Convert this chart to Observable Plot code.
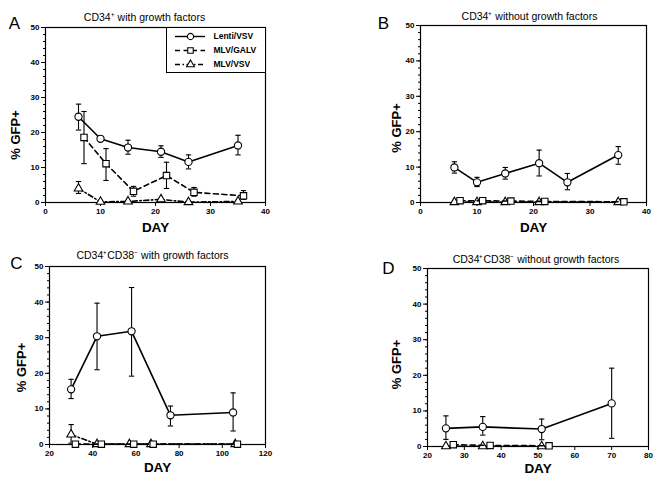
<!DOCTYPE html>
<html><head><meta charset="utf-8">
<script src="https://cdn.jsdelivr.net/npm/d3@7"></script>
<script src="https://cdn.jsdelivr.net/npm/@observablehq/plot@0.6"></script>
<style>
body{margin:0;background:#fff;font-family:"Liberation Sans",Arial,sans-serif}
#root{position:relative;width:666px;height:480px;background:#fff;overflow:hidden}
.pn{position:absolute}
#legend{position:absolute;left:166px;top:27px;width:100px;height:46px;box-sizing:border-box;border:1px solid #000;background:#fff}
</style></head>
<body><div id="root">
<div class="pn" id="pA" style="left:0;top:0"></div>
<div class="pn" id="pB" style="left:333px;top:0"></div>
<div class="pn" id="pC" style="left:0;top:240px"></div>
<div class="pn" id="pD" style="left:333px;top:240px"></div>
<div id="legend"></div>
</div>
<script>
// ---- Data ----
const seriesNames = ["Lenti/VSV", "MLV/GALV", "MLV/VSV"];
const panelTitles = ["CD34\u207A with growth factors", "CD34\u207A without growth factors",
  "CD34\u207ACD38\u207B with growth factors", "CD34\u207ACD38\u207B without growth factors"];
const panelLetters = ["A", "B", "C", "D"];
const yTicks = [0, 10, 20, 30, 40, 50];
const xTicksAB = [0, 10, 20, 30, 40];
const xTicksC = [20, 40, 60, 80, 100, 120];
const xTicksD = [20, 30, 40, 50, 60, 70, 80];

// Panel A
const A_lentiDay = [6, 10, 15, 21, 26, 35];
const A_lenti    = [24.5, 18.2, 15.7, 14.5, 11.6, 16.3];
const A_lentiLo  = [20.7, null, 13.8, 12.9, 9.6, 13.6];
const A_lentiHi  = [28.1, null, 17.8, 16.2, 13.6, 19.2];
const A_galvDay  = [7, 11, 16, 22, 27, 36];
const A_galv     = [18.6, 11.1, 3.2, 7.7, 2.9, 1.9];
const A_galvLo   = [11.1, 6.3, 1.8, 4.0, 1.8, 0.9];
const A_galvHi   = [26.0, 15.4, 4.6, 11.5, 4.3, 3.4];
const A_vsvDay   = [6, 10, 15, 21, 26, 35];
const A_vsv      = [4.0, 0.2, 0.3, 0.9, 0.1, 0.3];
const A_vsvLo    = [2.6, null, null, null, null, null];
const A_vsvHi    = [6.0, null, null, null, null, null];

// Panel B
const B_lentiDay = [6, 10, 15, 21, 26, 35];
const B_lenti    = [9.9, 5.7, 8.2, 11.1, 5.7, 13.4];
const B_lentiLo  = [8.3, 4.5, 6.6, 7.5, 3.6, 10.8];
const B_lentiHi  = [11.5, 7.1, 9.9, 14.8, 8.2, 15.8];
const B_galvDay  = [7, 11, 16, 22, 36];
const B_galv     = [0.5, 0.5, 0.4, 0.3, 0.2];
const B_vsvDay   = [6, 10, 15, 21, 35];
const B_vsv      = [0.1, 0.1, 0.1, 0.1, 0.1];

// Panel C
const C_lentiDay = [30, 42, 58, 76, 105];
const C_lenti    = [15.5, 30.4, 31.8, 8.2, 9.0];
const C_lentiLo  = [12.9, 21.0, 19.2, 5.2, 3.8];
const C_lentiHi  = [18.3, 39.7, 44.1, 10.8, 14.5];
const C_galvDay  = [32, 44, 59, 68, 107];
const C_galv     = [0.1, 0.1, 0.1, 0.1, 0.1];
const C_vsvDay   = [30, 42, 57, 67, 106];
const C_vsv      = [2.8, 0.1, 0.1, 0.1, 0.1];
const C_vsvLo    = [0.4, null, null, null, null];
const C_vsvHi    = [5.6, null, null, null, null];

// Panel D
const D_lentiDay = [25, 35, 51, 70];
const D_lenti    = [5.1, 5.5, 4.9, 12.1];
const D_lentiLo  = [2.0, 3.2, 1.9, 2.3];
const D_lentiHi  = [8.6, 8.4, 7.7, 22.0];
const D_galvDay  = [27, 37, 53];
const D_galv     = [0.5, 0.3, 0.2];
const D_vsvDay   = [25, 35, 51];
const D_vsv      = [0.05, 0.05, 0.05];

// ---- Helpers ----
const FONT = "Liberation Sans, Arial, sans-serif";
function rows(days, vals, lo, hi) {
  return days.map((d, i) => ({day: d, v: vals[i], lo: lo ? lo[i] : null, hi: hi ? hi[i] : null}));
}
const cap = {draw(ctx, size) { const w = Math.sqrt(size); ctx.moveTo(-w, 0); ctx.lineTo(w, 0); }};
const styles = {
  "Lenti/VSV": {symbol: "circle", dash: null, r: 3.6},
  "MLV/GALV": {symbol: "square", dash: "5,3.5", r: 3.6},
  "MLV/VSV":  {symbol: "triangle", dash: "5,2.5,1.5,2.5", r: 3.2}
};

function seriesMarks(name, data) {
  const s = styles[name];
  const eb = data.filter(d => d.lo != null && d.hi != null);
  return [
    Plot.ruleX(eb, {x: "day", y1: "lo", y2: "hi", stroke: "black", strokeWidth: 1.1}),
    Plot.dot(eb, {x: "day", y: "hi", symbol: cap, r: 1.5, stroke: "black", fill: "none", strokeWidth: 1.1}),
    Plot.dot(eb, {x: "day", y: "lo", symbol: cap, r: 1.5, stroke: "black", fill: "none", strokeWidth: 1.1}),
    Plot.line(data, {x: "day", y: "v", stroke: "black", strokeWidth: 1.6, strokeDasharray: s.dash}),
    Plot.dot(data, {x: "day", y: "v", symbol: s.symbol, r: s.r, stroke: "black", fill: "white", strokeWidth: 1.1})
  ];
}

function panel(o) {
  const plot = Plot.plot({
    width: 333, height: 240,
    marginLeft: o.ml, marginRight: o.mr, marginTop: o.mt, marginBottom: o.mb,
    style: {fontFamily: FONT, fontSize: "8px", background: "white", color: "black"},
    x: {domain: o.xDomain, label: null},
    y: {domain: [0, 50], label: null},
    marks: [
      Plot.frame({stroke: "black", strokeWidth: 1.2}),
      Plot.axisY({ticks: d3.range(0, 51, 2), tickSize: 2, text: null}),
      Plot.axisY({ticks: yTicks, tickSize: 4, tickPadding: 2, fontWeight: "bold", fontSize: 8, label: null}),
      Plot.axisX({ticks: o.xTicks, tickSize: 4, tickPadding: 2, fontWeight: "bold", fontSize: 8, label: null}),
      ...o.series.flatMap(([name, data]) => seriesMarks(name, data)),
      Plot.text([o.title], {frameAnchor: "top", dx: o.tdx, dy: o.tdy, fontSize: 10.5, lineAnchor: "middle"}),
      Plot.text([o.letter], {frameAnchor: "top-left", dx: o.ldx, dy: o.ldy, fontSize: 17, lineAnchor: "middle", textAnchor: "middle"}),
      Plot.text(["% GFP+"], {frameAnchor: "left", rotate: -90, dx: o.ydx, dy: o.ydy, fontSize: 13, fontWeight: "bold", lineAnchor: "middle", textAnchor: "middle"}),
      Plot.text(["DAY"], {frameAnchor: "bottom", dy: o.xdy, fontSize: 13.5, fontWeight: "bold", lineAnchor: "middle"})
    ]
  });
  document.getElementById(o.id).appendChild(plot);
}

panel({id: "pA", ml: 45, mr: 68, mt: 27, mb: 38, xDomain: [0, 40], xTicks: xTicksAB,
  title: panelTitles[0], letter: panelLetters[0], tdx: -11, tdy: -10, ldx: -31, ldy: -4, ydx: -30, ydy: 20, xdy: 25,
  series: [["MLV/VSV", rows(A_vsvDay, A_vsv, A_vsvLo, A_vsvHi)],
           ["MLV/GALV", rows(A_galvDay, A_galv, A_galvLo, A_galvHi)],
           ["Lenti/VSV", rows(A_lentiDay, A_lenti, A_lentiLo, A_lentiHi)]]});
panel({id: "pB", ml: 87, mr: 20, mt: 25, mb: 38, xDomain: [0, 40], xTicks: xTicksAB,
  title: panelTitles[1], letter: panelLetters[1], tdx: -4, tdy: -9, ldx: -37, ldy: -2, ydx: -24, ydy: 14, xdy: 25,
  series: [["MLV/VSV", rows(B_vsvDay, B_vsv)],
           ["MLV/GALV", rows(B_galvDay, B_galv)],
           ["Lenti/VSV", rows(B_lentiDay, B_lenti, B_lentiLo, B_lentiHi)]]});
panel({id: "pC", ml: 49, mr: 68, mt: 26, mb: 36, xDomain: [20, 120], xTicks: xTicksC,
  title: panelTitles[2], letter: panelLetters[2], tdx: -5, tdy: -11, ldx: -33, ldy: -3, ydx: -28, ydy: 12, xdy: 23,
  series: [["MLV/VSV", rows(C_vsvDay, C_vsv, C_vsvLo, C_vsvHi)],
           ["MLV/GALV", rows(C_galvDay, C_galv)],
           ["Lenti/VSV", rows(C_lentiDay, C_lenti, C_lentiLo, C_lentiHi)]]});
panel({id: "pD", ml: 94, mr: 18, mt: 28, mb: 34, xDomain: [20, 80], xTicks: xTicksD,
  title: panelTitles[3], letter: panelLetters[3], tdx: -2, tdy: -9, ldx: -39, ldy: 0, ydx: -31, ydy: 7, xdy: 22,
  series: [["MLV/VSV", rows(D_vsvDay, D_vsv)],
           ["MLV/GALV", rows(D_galvDay, D_galv)],
           ["Lenti/VSV", rows(D_lentiDay, D_lenti, D_lentiLo, D_lentiHi)]]});

// Legend (mini plot inside panel A's box)
const legendRows = seriesNames.map(n => ({name: n}));
const legend = Plot.plot({
  width: 98, height: 44, margin: 0, marginTop: 7, marginBottom: 8,
  style: {fontFamily: FONT, background: "white", color: "black"},
  x: {domain: [0, 98], range: [0, 98], axis: null},
  y: {type: "point", domain: seriesNames, padding: 0, axis: null},
  marks: [
    ...seriesNames.map(n => Plot.ruleY(legendRows.filter(d => d.name === n), {y: "name", x1: 8, x2: 38, stroke: "black", strokeWidth: 1.4, strokeDasharray: styles[n].dash})),
    Plot.dot(legendRows, {y: "name", x: 23, symbol: d => styles[d.name].symbol, r: d => styles[d.name].r, stroke: "black", fill: "white", strokeWidth: 1.1}),
    Plot.text(legendRows, {y: "name", x: 46, text: "name", textAnchor: "start", fontSize: 8.5, fontWeight: "bold"})
  ]
});
document.getElementById("legend").appendChild(legend);
</script>
</body></html>
